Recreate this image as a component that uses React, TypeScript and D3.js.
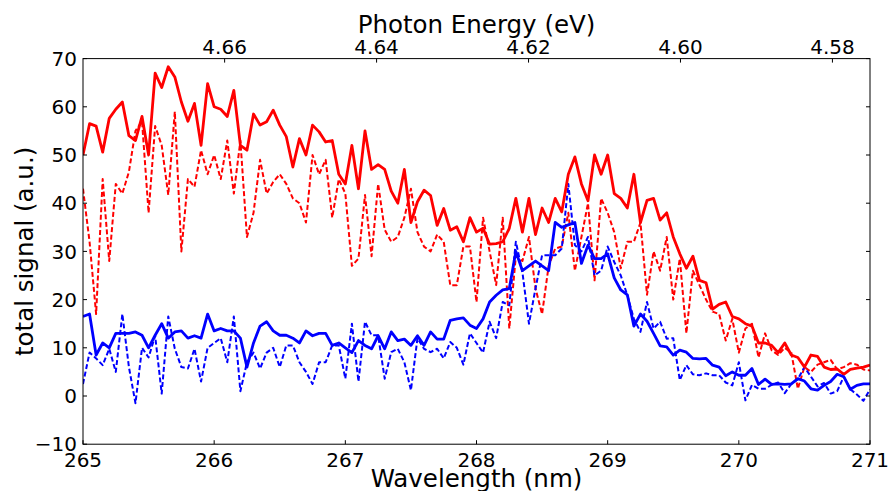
import React from "react";
import * as d3 from "d3";

// Sampling grid: 265.00 nm to 271.00 nm in 0.05 nm steps (121 samples)
const WL_START = 265;
const WL_STEP = 0.05;

const redSolid = [
  50, 56.5, 56, 50.6, 57.6, 59.5, 61, 54, 53, 58, 50, 67, 64, 68.3, 66.2, 61, 57, 60.7, 52, 64.8,
  60, 59.5, 58, 63.4, 52, 51, 58.5, 56.2, 56.9, 59.3, 56.2, 53.8, 47.5, 53.4, 50, 56.2, 54.8, 52.7, 53, 46,
  44, 52, 43, 55, 47, 48, 47, 42.5, 40, 47, 36, 40.3, 42.7, 41.6, 35.4, 38.9, 34.4, 35.1, 32, 37,
  34, 34.8, 31.5, 31.6, 32, 34.8, 41, 34, 41, 33.5, 39, 36, 41, 38.2, 46, 49.6, 44, 40.5, 50, 46,
  50, 42, 41, 39, 46, 36, 40.6, 41, 36.5, 38, 33, 29.5, 26.5, 29, 24, 23.5, 18, 19, 19.5, 16.5,
  16, 15, 14.5, 11, 11, 10.5, 9, 11, 8.5, 8, 6, 8.5, 8.2, 6, 5.5, 5.6, 4.5, 5.5, 5.8, 6, 6.4,
];

const redDashed = [
  43, 32, 17, 45, 28, 44, 42, 46.5, 55, 57, 38, 56, 52, 41.7, 59, 30, 45, 43.4, 51, 46,
  50, 45, 53, 42, 53, 33, 38, 49, 42, 44.4, 46, 44, 41, 40, 36, 50, 46, 49, 37, 45,
  42, 27, 28.5, 41.7, 29, 44, 34.5, 32, 33, 37, 43, 34, 31, 30, 33.5, 32, 23, 23, 31, 31,
  19.5, 37, 30, 23, 37, 14, 29, 28, 33, 22.3, 17, 27, 30.6, 31, 38, 26, 33, 40, 24, 41,
  38, 34, 26.5, 32, 32, 36, 21, 30, 26, 33, 20, 28.5, 13, 26, 23, 20, 17.5, 17, 11.5, 16,
  9, 14, 15, 8, 13, 9.5, 8.5, 10, 9, 1.5, 6, 5, 6.5, 7, 7.5, 5.5, 6, 6.8, 6.5, 5.5, 5.3,
];

const blueSolid = [
  16.5, 17, 8.5, 11, 10, 13, 13, 13, 13.3, 12.6, 10, 12.6, 15, 12, 13.3, 13.5, 12, 12.5, 12, 17,
  13.5, 14, 13.5, 13.5, 12, 6, 11, 14.5, 15.4, 13.5, 12.6, 12.6, 12, 11, 13.5, 12.5, 13, 13, 10.5, 11,
  10, 9, 11.5, 10.5, 9.8, 12.5, 9.8, 13.3, 11.5, 11.8, 10.5, 12.5, 10.5, 13.3, 11.8, 11.8, 15.7, 16, 16.2, 14.7,
  14, 16, 19.5, 20.9, 22, 22.3, 30, 26, 27, 28, 27, 26, 36, 35, 35.5, 36, 27.5, 31.3, 28.5, 28.5,
  29.5, 24.5, 22, 21, 14.5, 17, 15.5, 13, 10.4, 10.2, 8.5, 9.5, 9.1, 7.8, 7.7, 7.8, 6.4, 6, 4.2, 5,
  4.3, 4.3, 5.7, 2.4, 3.5, 2.4, 2.5, 2.4, 2.5, 3.6, 3.1, 1.5, 1.2, 2.2, 3, 4.5, 4, 1.4, 2.2, 2.5, 2.5,
];

const blueDashed = [
  2.5, 9, 7.8, 6.4, 9.8, 5, 17, 6, -1.5, 10, 8, 12.5, 0.5, 16.5, 9.8, 6, 5.7, 9.8, 3, 10,
  11, 12, 7, 16.5, 1, 7, 9, 5.7, 9, 10, 6, 10.5, 10.5, 7, 5, 2.5, 7, 7, 10.5, 10.5,
  3.6, 15, 3, 15.4, 12.6, 12.6, 3.6, 9.1, 9.8, 7, 1.2, 12, 9.8, 9.1, 9.8, 7.8, 11.2, 10, 6.5, 13,
  11, 9, 15.4, 12, 19.5, 18.8, 32, 25.7, 15, 22.3, 29.2, 29.2, 29.2, 30.6, 44, 31.3, 30, 33, 25, 26,
  31, 27.8, 25, 20.9, 16, 13.3, 19.5, 14, 15.4, 11.9, 12, 3.3, 6.4, 4.5, 4.3, 4.7, 4.3, 4.3, 2.8, 2.2,
  7, -0.9, 2.3, 1.5, 1.5, 2.3, 2.8, 0.6, 2.5, 3.5, 6, 4, 2, 2.7, 0.5, 1, 4, 1.4, 0.3, -1, 1.4,
];

const xTicks = [265, 266, 267, 268, 269, 270, 271];
const yTicks = [-10, 0, 10, 20, 30, 40, 50, 60, 70];
const energyTicks = [4.66, 4.64, 4.62, 4.6, 4.58];

const HC = 1239.84;
const W = 893;
const H = 491;
const M = { left: 83, right: 870, top: 58.6, bottom: 444.2 };
const FONT = "'DejaVu Sans', sans-serif";

export default function App() {
  const wl = redSolid.map((_, i) => WL_START + i * WL_STEP);
  const x = d3.scaleLinear().domain([265, 271]).range([M.left, M.right]);
  const y = d3.scaleLinear().domain([-10, 70]).range([M.bottom, M.top]);
  const xE = d3.scaleLinear().domain([HC / 265, HC / 271]).range([M.left, M.right]);

  const line = d3
    .line<number>()
    .x((_, i) => x(wl[i]))
    .y((d) => y(d));

  const fmtY = (d: number) => (d < 0 ? "\u2212" + Math.abs(d) : String(d));
  const tickLen = 4;

  return (
    <svg
      width={W}
      height={H}
      style={{ position: "absolute", left: 0, top: 0, background: "#fff" }}
      fontFamily={FONT}
    >
      <defs>
        <clipPath id="plotclip">
          <rect x={M.left} y={M.top} width={M.right - M.left} height={M.bottom - M.top} />
        </clipPath>
      </defs>
      <rect x={0} y={0} width={W} height={H} fill="#fff" />
      <g clipPath="url(#plotclip)" fill="none" strokeLinejoin="round">
        <path d={line(redDashed) || ""} stroke="#ff0000" strokeWidth={2} strokeDasharray="5,2.6" />
        <path d={line(blueDashed) || ""} stroke="#0000ff" strokeWidth={2} strokeDasharray="5,2.6" />
        <path d={line(redSolid) || ""} stroke="#ff0000" strokeWidth={2.8} />
        <path d={line(blueSolid) || ""} stroke="#0000ff" strokeWidth={2.8} />
      </g>
      <rect
        x={M.left}
        y={M.top}
        width={M.right - M.left}
        height={M.bottom - M.top}
        fill="none"
        stroke="#000"
        strokeWidth={1}
      />
      {/* bottom ticks */}
      {xTicks.map((t) => (
        <g key={"x" + t}>
          <line x1={x(t)} x2={x(t)} y1={M.bottom} y2={M.bottom - tickLen} stroke="#000" />
          <text x={x(t)} y={M.bottom + 23} fontSize={20} textAnchor="middle" fill="#000">
            {t}
          </text>
        </g>
      ))}
      {/* top energy ticks */}
      {energyTicks.map((t) => (
        <g key={"e" + t}>
          <line x1={xE(t)} x2={xE(t)} y1={M.top} y2={M.top + tickLen} stroke="#000" />
          <text x={xE(t)} y={M.top - 5} fontSize={20} textAnchor="middle" fill="#000">
            {t.toFixed(2)}
          </text>
        </g>
      ))}
      {/* y ticks */}
      {yTicks.map((t) => (
        <g key={"y" + t}>
          <line x1={M.left} x2={M.left + tickLen} y1={y(t)} y2={y(t)} stroke="#000" />
          <line x1={M.right} x2={M.right - tickLen} y1={y(t)} y2={y(t)} stroke="#000" />
          <text x={M.left - 6} y={y(t)} dy="0.36em" fontSize={20} textAnchor="end" fill="#000">
            {fmtY(t)}
          </text>
        </g>
      ))}
      <text x={(M.left + M.right) / 2} y={487} fontSize={24.5} textAnchor="middle" fill="#000">
        Wavelength (nm)
      </text>
      <text x={(M.left + M.right) / 2} y={33} fontSize={24.5} textAnchor="middle" fill="#000">
        Photon Energy (eV)
      </text>
      <text
        transform={`translate(33, ${(M.top + M.bottom) / 2}) rotate(-90)`}
        fontSize={24.5}
        textAnchor="middle"
        fill="#000"
      >
        total signal (a.u.)
      </text>
    </svg>
  );
}
